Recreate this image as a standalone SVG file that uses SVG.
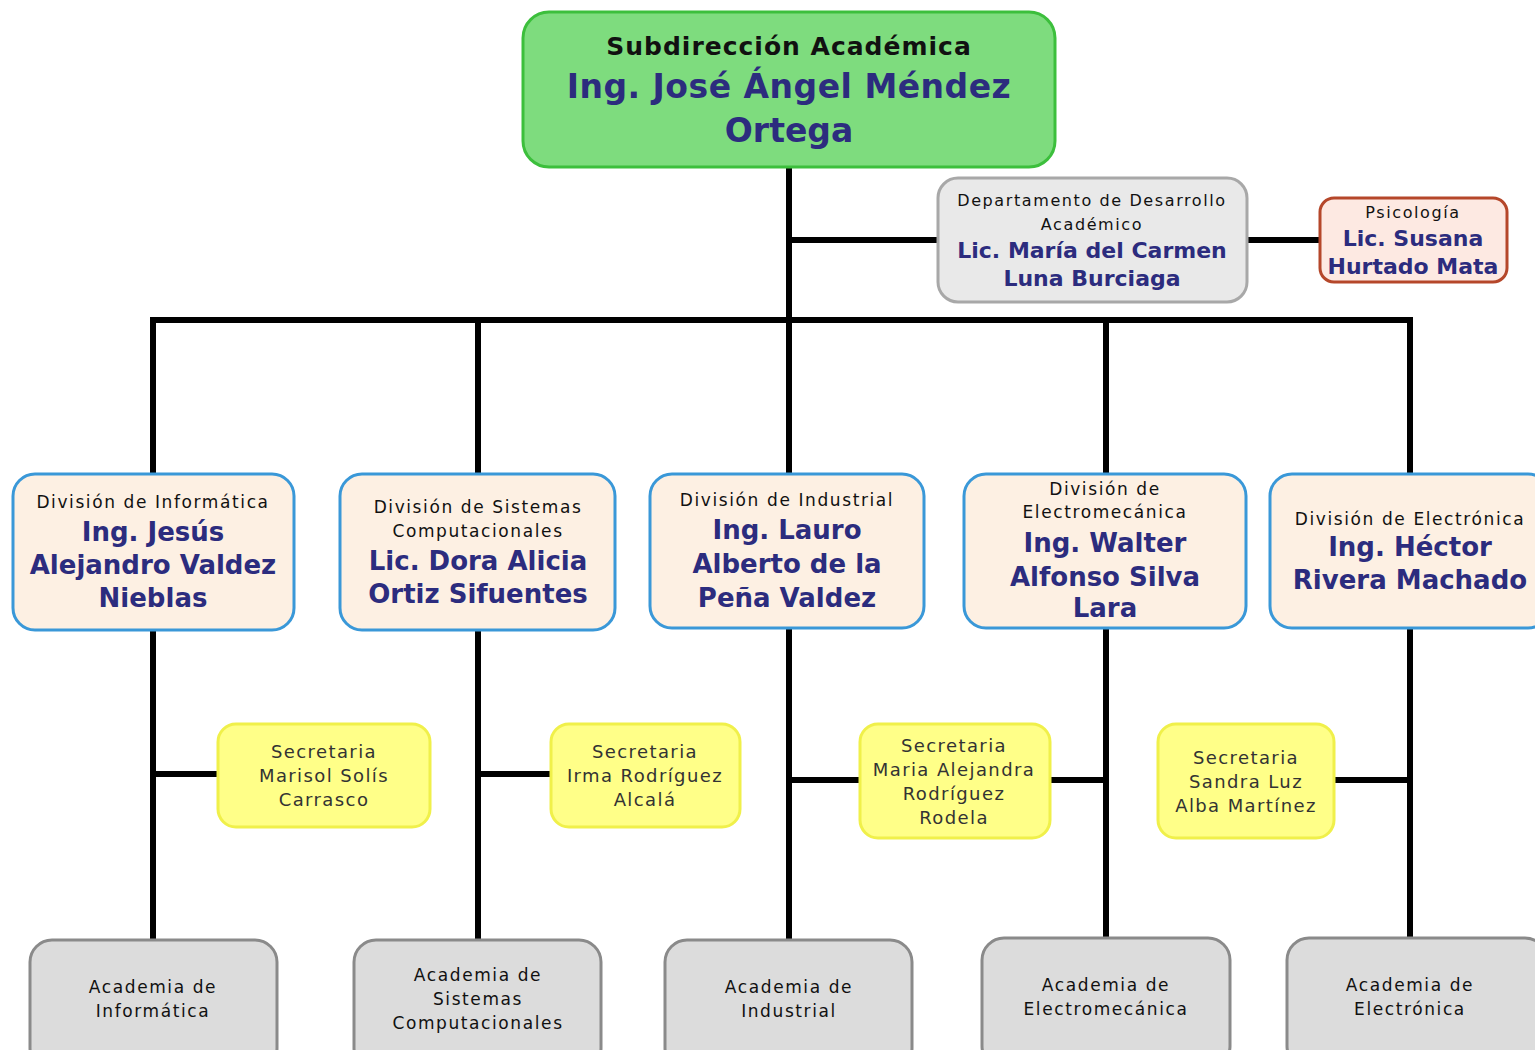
<svg xmlns="http://www.w3.org/2000/svg" width="1535" height="1050" viewBox="0 0 1535 1050">
<style>
.bg{fill:#ffffff}
.ln{stroke:#000;stroke-width:6;fill:none;stroke-linecap:square}
.top{fill:#7edc7e;stroke:#3cbf3c;stroke-width:3}
.dep{fill:#e9e9e9;stroke:#a8a8a8;stroke-width:3}
.psi{fill:#fde9e2;stroke:#b5472a;stroke-width:3}
.div{fill:#fdf0e3;stroke:#3a98d8;stroke-width:3}
.sec{fill:#ffff88;stroke:#f0f04a;stroke-width:3}
.aca{fill:#dcdcdc;stroke:#8a8a8a;stroke-width:3}
text{text-anchor:middle;font-family:"DejaVu Sans","Liberation Sans",sans-serif}
.t{font-size:17px;fill:#111;letter-spacing:1.6px}
.d{font-size:16px;fill:#111;letter-spacing:1.6px}
.s{font-size:18px;fill:#333;letter-spacing:1.4px}
.n{font-weight:bold;fill:#2c2c7e}
.h{font-weight:bold;fill:#111;font-size:25px;letter-spacing:1px}
</style>
<rect class="bg" x="0" y="0" width="1535" height="1050"/>
<g id="connectors">
<path class="ln" d="M789 168 V472"/>
<path class="ln" d="M789 240 H938"/>
<path class="ln" d="M1247 240 H1320"/>
<path class="ln" d="M153 320 H1410"/>
<path class="ln" d="M153 320 V473"/>
<path class="ln" d="M478 320 V473"/>
<path class="ln" d="M1106 320 V473"/>
<path class="ln" d="M1410 320 V473"/>
<path class="ln" d="M153 630 V940"/>
<path class="ln" d="M478 630 V940"/>
<path class="ln" d="M789 630 V940"/>
<path class="ln" d="M1106 630 V940"/>
<path class="ln" d="M1410 630 V940"/>
<path class="ln" d="M153 774 H218"/>
<path class="ln" d="M478 774 H551"/>
<path class="ln" d="M789 780 H860"/>
<path class="ln" d="M1050 780 H1106"/>
<path class="ln" d="M1334 780 H1410"/>
</g>
<g id="subdireccion">
<rect class="top" x="523" y="12" width="532" height="155" rx="26"/>
<text class="h" x="789" y="55">Subdirección Académica</text>
<text class="n" x="789" y="98" font-size="33" letter-spacing="0.5">Ing. José Ángel Méndez</text>
<text class="n" x="789" y="142" font-size="33">Ortega</text>
</g>
<g id="desarrollo">
<rect class="dep" x="938" y="178" width="309" height="124" rx="20"/>
<text class="d" x="1092" y="206">Departamento de Desarrollo</text>
<text class="d" x="1092" y="230">Académico</text>
<text class="n" x="1092" y="258" font-size="22">Lic. María del Carmen</text>
<text class="n" x="1092" y="286" font-size="22">Luna Burciaga</text>
</g>
<g id="psicologia">
<rect class="psi" x="1320" y="198" width="187" height="84" rx="14"/>
<text class="d" x="1413" y="218">Psicología</text>
<text class="n" x="1413" y="246" font-size="22">Lic. Susana</text>
<text class="n" x="1413" y="274" font-size="22">Hurtado Mata</text>
</g>
<g id="div-informatica">
<rect class="div" x="13" y="474" width="281" height="156" rx="22"/>
<text class="t" x="153" y="508">División de Informática</text>
<text class="n" x="153" y="541" font-size="26">Ing. Jesús</text>
<text class="n" x="153" y="574" font-size="26">Alejandro Valdez</text>
<text class="n" x="153" y="607" font-size="26">Nieblas</text>
</g>
<g id="div-sistemas">
<rect class="div" x="340" y="474" width="275" height="156" rx="22"/>
<text class="t" x="478" y="513">División de Sistemas</text>
<text class="t" x="478" y="537">Computacionales</text>
<text class="n" x="478" y="570" font-size="26">Lic. Dora Alicia</text>
<text class="n" x="478" y="603" font-size="26">Ortiz Sifuentes</text>
</g>
<g id="div-industrial">
<rect class="div" x="650" y="474" width="274" height="154" rx="22"/>
<text class="t" x="787" y="506">División de Industrial</text>
<text class="n" x="787" y="539" font-size="26">Ing. Lauro</text>
<text class="n" x="787" y="573" font-size="26">Alberto de la</text>
<text class="n" x="787" y="607" font-size="26">Peña Valdez</text>
</g>
<g id="div-electromecanica">
<rect class="div" x="964" y="474" width="282" height="154" rx="22"/>
<text class="t" x="1105" y="495">División de</text>
<text class="t" x="1105" y="518">Electromecánica</text>
<text class="n" x="1105" y="552" font-size="26">Ing. Walter</text>
<text class="n" x="1105" y="586" font-size="26">Alfonso Silva</text>
<text class="n" x="1105" y="617" font-size="26">Lara</text>
</g>
<g id="div-electronica">
<rect class="div" x="1270" y="474" width="280" height="154" rx="22"/>
<text class="t" x="1410" y="525">División de Electrónica</text>
<text class="n" x="1410" y="556" font-size="26">Ing. Héctor</text>
<text class="n" x="1410" y="589" font-size="26">Rivera Machado</text>
</g>
<g id="sec-1">
<rect class="sec" x="218" y="724" width="212" height="103" rx="18"/>
<text class="s" x="324" y="758">Secretaria</text>
<text class="s" x="324" y="782">Marisol Solís</text>
<text class="s" x="324" y="806">Carrasco</text>
</g>
<g id="sec-2">
<rect class="sec" x="551" y="724" width="189" height="103" rx="18"/>
<text class="s" x="645" y="758">Secretaria</text>
<text class="s" x="645" y="782">Irma Rodríguez</text>
<text class="s" x="645" y="806">Alcalá</text>
</g>
<g id="sec-3">
<rect class="sec" x="860" y="724" width="190" height="114" rx="18"/>
<text class="s" x="954" y="752">Secretaria</text>
<text class="s" x="954" y="776">Maria Alejandra</text>
<text class="s" x="954" y="800">Rodríguez</text>
<text class="s" x="954" y="824">Rodela</text>
</g>
<g id="sec-4">
<rect class="sec" x="1158" y="724" width="176" height="114" rx="18"/>
<text class="s" x="1246" y="764">Secretaria</text>
<text class="s" x="1246" y="788">Sandra Luz</text>
<text class="s" x="1246" y="812">Alba Martínez</text>
</g>
<g id="aca-informatica">
<rect class="aca" x="30" y="940" width="247" height="130" rx="22"/>
<text class="t" x="153" y="993">Academia de</text>
<text class="t" x="153" y="1017">Informática</text>
</g>
<g id="aca-sistemas">
<rect class="aca" x="354" y="940" width="247" height="130" rx="22"/>
<text class="t" x="478" y="981">Academia de</text>
<text class="t" x="478" y="1005">Sistemas</text>
<text class="t" x="478" y="1029">Computacionales</text>
</g>
<g id="aca-industrial">
<rect class="aca" x="665" y="940" width="247" height="130" rx="22"/>
<text class="t" x="789" y="993">Academia de</text>
<text class="t" x="789" y="1017">Industrial</text>
</g>
<g id="aca-electromecanica">
<rect class="aca" x="982" y="938" width="248" height="130" rx="22"/>
<text class="t" x="1106" y="991">Academia de</text>
<text class="t" x="1106" y="1015">Electromecánica</text>
</g>
<g id="aca-electronica">
<rect class="aca" x="1287" y="938" width="260" height="130" rx="22"/>
<text class="t" x="1410" y="991">Academia de</text>
<text class="t" x="1410" y="1015">Electrónica</text>
</g>
</svg>
